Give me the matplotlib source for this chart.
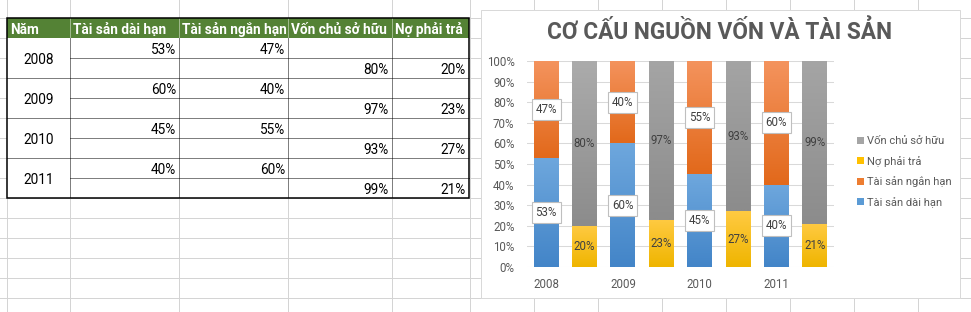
import matplotlib.pyplot as plt
import matplotlib.colors as mcolors
import numpy as np

# data
years = ['2008', '2009', '2010', '2011']
tai_san_dai_han = [53, 60, 45, 40]
tai_san_ngan_han = [47, 40, 55, 60]
von_chu_so_huu = [80, 97, 93, 99]
no_phai_tra = [20, 23, 27, 21]

headers = ['Năm', 'Tài sản dài hạn', 'Tài sản ngắn hạn', 'Vốn chủ sở hữu', 'Nợ phải trả']
title = 'CƠ CẤU NGUỒN VỐN VÀ TÀI SẢN'

plt.rcParams['font.family'] = ['Roboto', 'DejaVu Sans']

fig = plt.figure(figsize=(9.71, 3.12), dpi=100)

# spreadsheet background, pixel coords
bg = fig.add_axes([0, 0, 1, 1])
bg.set_xlim(0, 971)
bg.set_ylim(312, 0)
bg.axis('off')

px = 0.72  # one pixel in points
for x in [7, 70, 179, 288, 392, 470, 534, 598, 662, 726, 790, 854, 918]:
    bg.axvline(x, color='#d4d4d4', lw=px, zorder=0)
for y in range(-2, 312, 20):
    bg.axhline(y, color='#d4d4d4', lw=px, zorder=0)

# table
cols = [7, 70, 179, 288, 392, 469]
top, head_h, row_h = 18, 20, 20
body_top = top + head_h
body_bot = body_top + row_h * 2 * len(years)
bg.add_patch(plt.Rectangle((cols[0], top), cols[-1] - cols[0], body_bot - top,
                           fc='white', ec='none', zorder=1))
bg.add_patch(plt.Rectangle((cols[0], top), cols[-1] - cols[0], head_h,
                           fc='#548235', ec='none', zorder=1))
fs_tab = 9.8
for c, h in zip(cols[:-1], headers):
    bg.text(c + 3, top + head_h - 4, h, color='white', weight='bold',
            fontsize=fs_tab, va='baseline', ha='left', zorder=3)

dot = (0, (1, 1))
for c in cols[1:-1]:
    bg.plot([c, c], [top, body_top], color='#e8efe2', lw=px, ls=dot, zorder=2)
    bg.plot([c, c], [body_top, body_bot], color='black', lw=px, ls=dot, zorder=2)
for k in range(1, 2 * len(years)):
    y = body_top + k * row_h
    x0 = cols[0] if k % 2 == 0 else cols[1]
    bg.plot([x0, cols[-1]], [y, y], color='black', lw=px, ls=dot, zorder=2)
bg.add_patch(plt.Rectangle((cols[0], top), cols[-1] - cols[0], body_bot - top,
                           fc='none', ec='black', lw=1.1, zorder=4))

for i, yr in enumerate(years):
    r0 = body_top + i * 2 * row_h
    bg.text((cols[0] + cols[1]) / 2, r0 + 25.5, yr, ha='center', va='baseline',
            fontsize=fs_tab, color='black', zorder=3)
    for j, v in ((1, tai_san_dai_han[i]), (2, tai_san_ngan_han[i])):
        bg.text(cols[j + 1] - 3, r0 + 16.5, f'{v}%', ha='right', va='baseline',
                fontsize=fs_tab, zorder=3)
    for j, v in ((3, von_chu_so_huu[i]), (4, no_phai_tra[i])):
        bg.text(cols[j + 1] - 3, r0 + row_h + 16.5, f'{v}%', ha='right', va='baseline',
                fontsize=fs_tab, zorder=3)

# chart box
bg.add_patch(plt.Rectangle((481, 10), 479, 288, fc='white', ec='#d9d9d9', lw=px, zorder=5))

fig.text(720 / 971, 1 - 32.5 / 312, title, ha='center', va='center',
         fontsize=16.3, weight='bold', color='#595959')

ax = fig.add_axes([527 / 971, 45 / 312, 307 / 971, 206 / 312])
ax.set_facecolor('none')
ax.set_zorder(3)

w = 0.65
xa = np.arange(len(years)) * 2
xc = xa + 1
blue, orange, gray, yellow = '#5b9bd5', '#ed7d31', '#a5a5a5', '#ffc000'
b1 = ax.bar(xa, tai_san_dai_han, w, color=blue, zorder=2)
b2 = ax.bar(xa, tai_san_ngan_han, w, bottom=tai_san_dai_han, color=orange, zorder=2)
b3 = ax.bar(xc, no_phai_tra, w, color=yellow, zorder=2)
b4 = ax.bar(xc, von_chu_so_huu, w, bottom=no_phai_tra, color=gray, zorder=2)


def shade(bars, c_top, c_bot):
    t = np.array(mcolors.to_rgb(c_top))
    b = np.array(mcolors.to_rgb(c_bot))
    f = np.linspace(0, 1, 64)[:, None]
    img = (t * (1 - f) + b * f)[:, None, :]
    for p in bars:
        x0, y0 = p.get_x(), p.get_y()
        im = ax.imshow(img, extent=[x0, x0 + p.get_width(), y0, y0 + p.get_height()],
                       aspect='auto', zorder=2.1, interpolation='bilinear')
        im.set_clip_path(p)
        im.set_clip_box(ax.bbox)


shade(b1, '#6ea7dd', '#4385c8')
shade(b2, '#f4935d', '#e2691b')
shade(b3, '#ffca42', '#efb500')
shade(b4, '#ababab', '#8c8c8c')

fs = 8.3
box = dict(boxstyle='square,pad=0.33', fc='white', ec='#bfbfbf', lw=0.8)
for bars, vals, bb in ((b1, tai_san_dai_han, box), (b2, tai_san_ngan_han, box),
                       (b3, no_phai_tra, None), (b4, von_chu_so_huu, None)):
    ax.bar_label(bars, labels=[f'{v}%' for v in vals], label_type='center',
                 fontsize=fs, color='#404040', bbox=bb, zorder=5)

ax.set_xlim(-0.5, 2 * len(years) - 0.5)
ax.set_ylim(0, 100)
ax.set_yticks(np.arange(0, 101, 10), [f'{t}%' for t in range(0, 101, 10)])
ax.set_xticks(xa, years)
ax.tick_params(length=0, labelsize=fs, labelcolor='#595959')
ax.tick_params(axis='y', pad=9)
ax.tick_params(axis='x', pad=8)
for s in ax.spines.values():
    s.set_visible(False)
ax.yaxis.grid(True, color='#d9d9d9', lw=0.75)
ax.set_axisbelow(True)

fig.legend(handles=[b4, b3, b2, b1],
           labels=['Vốn chủ sở hữu', 'Nợ phải trả', 'Tài sản ngắn hạn', 'Tài sản dài hạn'],
           loc='center left', bbox_to_anchor=(853 / 971, 1 - 172 / 312), frameon=False,
           fontsize=8.0, labelcolor='#595959', handlelength=0.55, handleheight=0.55,
           handletextpad=0.35, labelspacing=0.86, borderaxespad=0)

fig.savefig('out.png', dpi=100)
